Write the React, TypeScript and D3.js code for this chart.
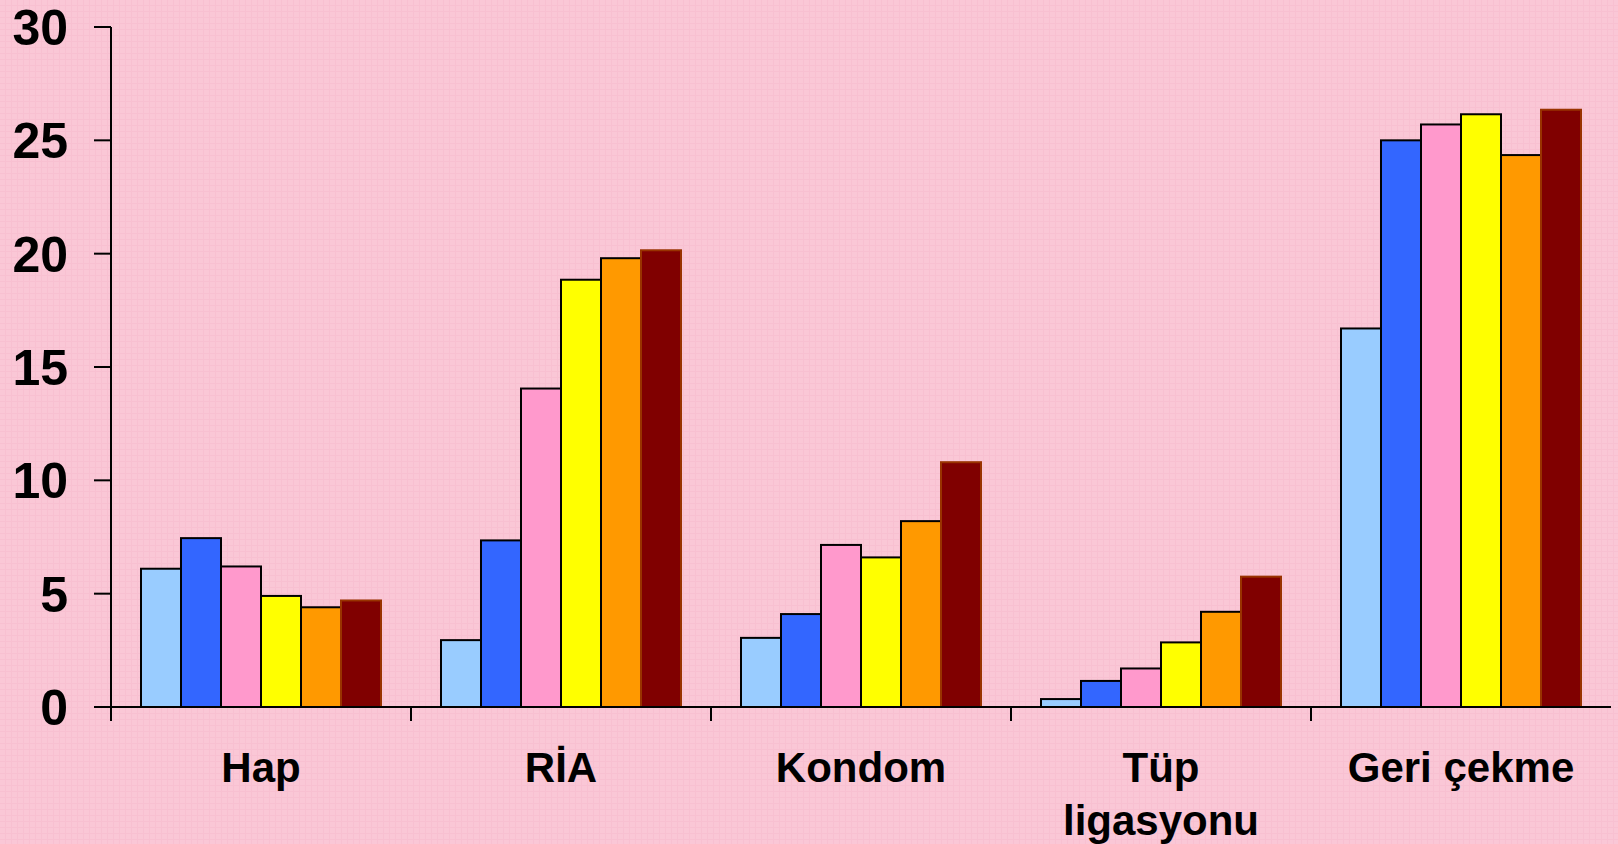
import React from 'react';
import * as d3 from 'd3';

// methods and the six survey rounds drawn per method
const categories = ['Hap', 'RİA', 'Kondom', 'Tüp ligasyonu', 'Geri çekme'];
const series = ['s1', 's2', 's3', 's4', 's5', 's6'];
const seriesColors = ['#99ccff', '#3366ff', '#ff99cc', '#ffff00', '#ff9900', '#800000'];
const values: number[][] = [
  [6.1, 7.45, 6.2, 4.9, 4.4, 4.7],
  [2.95, 7.35, 14.05, 18.85, 19.8, 20.15],
  [3.05, 4.1, 7.15, 6.6, 8.2, 10.8],
  [0.35, 1.15, 1.7, 2.85, 4.2, 5.75],
  [16.7, 25.0, 25.7, 26.15, 24.35, 26.35],
];
const yTicks = [0, 5, 10, 15, 20, 25, 30];

const W = 1618;
const H = 844;
const left = 111;
const right = 1611;
const top = 27;
const bottom = 707;

export default function App() {
  const x = d3.scaleBand<string>().domain(categories).range([left, right]).paddingInner(0.2).paddingOuter(0.1);
  const band = d3.scaleBand<string>().domain(categories).range([left, right]);
  const xs = d3.scaleBand<string>().domain(series).range([0, x.bandwidth()]);
  const y = d3.scaleLinear().domain([0, 30]).range([bottom, top]);
  const font = 'Arial, "Liberation Sans", sans-serif';

  return (
    <svg width={W} height={H} style={{ position: 'absolute', left: 0, top: 0 }}>
      <defs>
        <pattern id="weave" width="6" height="6" patternUnits="userSpaceOnUse">
          <rect width="6" height="6" fill="#f8c0d1" />
          <rect width="5" height="5" fill="#fac7d6" />
        </pattern>
      </defs>
      <rect width={W} height={H} fill="url(#weave)" />

      {categories.map((c, ci) => (
        <g key={c}>
          {values[ci].map((v, si) => (
            <rect
              key={si}
              x={(x(c) ?? 0) + (xs(series[si]) ?? 0)}
              y={y(v)}
              width={xs.bandwidth()}
              height={y(0) - y(v)}
              fill={seriesColors[si]}
              stroke={si === 5 ? '#993300' : '#000'}
              strokeWidth={2}
            />
          ))}
        </g>
      ))}

      {/* y axis */}
      <line x1={left} x2={left} y1={top} y2={bottom} stroke="#000" strokeWidth={2} />
      {yTicks.map((t) => (
        <g key={t}>
          <line x1={left - 17} x2={left} y1={y(t)} y2={y(t)} stroke="#000" strokeWidth={2} />
          <text x={68} y={y(t)} dy="0.36em" textAnchor="end" fontFamily={font} fontWeight="bold" fontSize={50}>
            {t}
          </text>
        </g>
      ))}

      {/* x axis */}
      <line x1={left - 17} x2={right} y1={bottom} y2={bottom} stroke="#000" strokeWidth={2} />
      {categories.map((c) => (
        <line key={c} x1={band(c)} x2={band(c)} y1={bottom} y2={bottom + 14} stroke="#000" strokeWidth={2} />
      ))}
      {categories.map((c) => {
        const cx = (band(c) ?? 0) + band.bandwidth() / 2;
        const lines = c === 'Tüp ligasyonu' ? ['Tüp', 'ligasyonu'] : [c];
        return (
          <text key={c} x={cx} y={782} textAnchor="middle" fontFamily={font} fontWeight="bold" fontSize={42}>
            {lines.map((l, i) => (
              <tspan key={l} x={cx} dy={i === 0 ? 0 : 53}>{l}</tspan>
            ))}
          </text>
        );
      })}
    </svg>
  );
}
